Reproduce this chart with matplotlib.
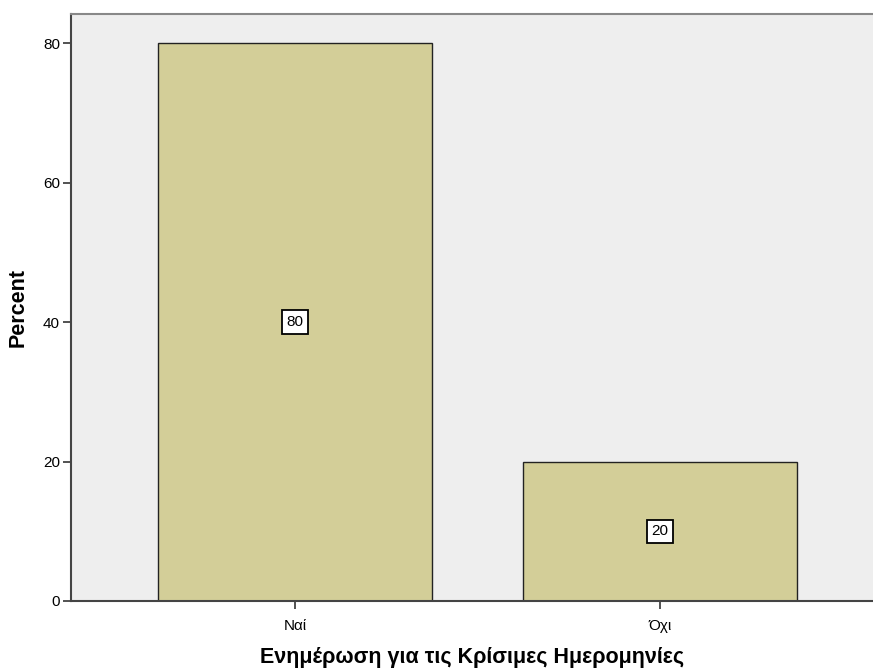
import matplotlib
matplotlib.use('Agg')
import matplotlib.pyplot as plt

categories = ['Ναί', 'Όχι']
percents   = [80, 20]

BG_AX  = '#EEEEEE'
BAR    = '#D3CE98'
plt.rcParams['font.family'] = ['Liberation Sans', 'DejaVu Sans']

fig = plt.figure(figsize=(8.73, 6.68), dpi=100, facecolor='white')
ax = fig.add_axes([71 / 873, 67 / 668, 1 - 71 / 873, (601 - 14) / 668])
ax.set_facecolor(BG_AX)

x = list(range(len(categories)))
ax.bar(x, percents, width=0.75, color=BAR, edgecolor='#222222', linewidth=1.0, zorder=2)

for xi, v in zip(x, percents):
    ax.text(xi, v / 2, f"{v}", ha='center', va='center', fontsize=11, color='black', zorder=3,
            bbox=dict(boxstyle='square,pad=0.3', facecolor='white', edgecolor='black', linewidth=1.3))

ax.set_xlim(-0.614, 1.584)
ax.set_ylim(0, 84.16)
ax.set_xticks(x)
ax.set_xticklabels(categories, fontsize=11)
ax.set_yticks([0, 20, 40, 60, 80])
ax.tick_params(axis='both', direction='out', length=6, width=1.3, color='#444444', labelsize=11)
ax.tick_params(axis='x', pad=7)
ax.tick_params(axis='y', pad=2)

for side in ['left', 'bottom']:
    ax.spines[side].set_color('#444444')
    ax.spines[side].set_linewidth(1.5)
ax.spines['top'].set_color('#888888')
ax.spines['top'].set_linewidth(1.5)
ax.spines['right'].set_visible(False)

ax.set_ylabel('Percent', fontsize=15.5, fontweight='bold', labelpad=10)
ax.set_xlabel('Ενημέρωση για τις Κρίσιμες Ημερομηνίες', fontsize=15.5, fontweight='bold', labelpad=10)

fig.savefig('out.png', dpi=100, facecolor='white')
